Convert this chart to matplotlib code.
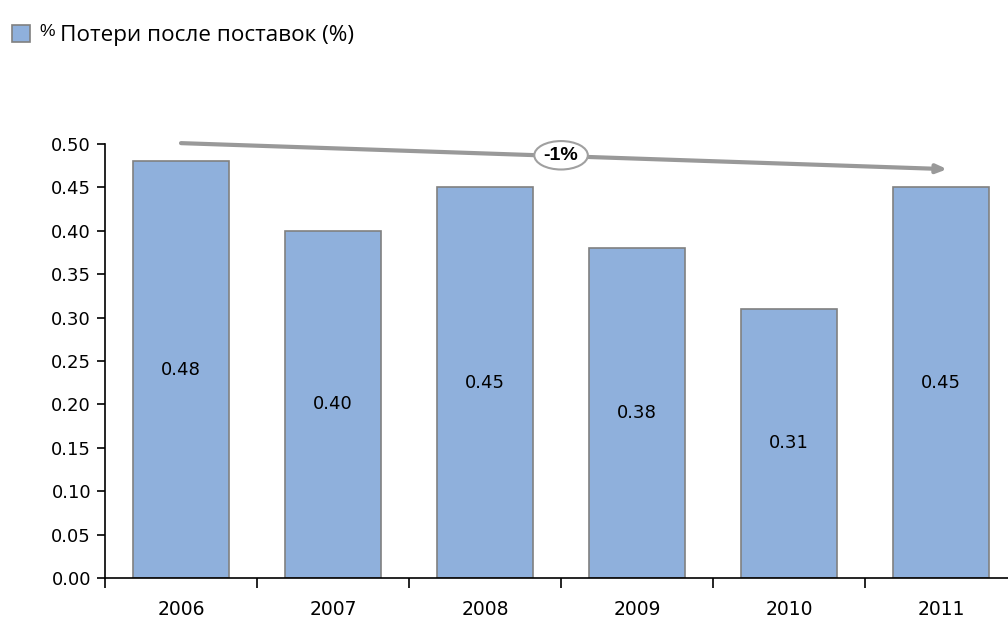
import matplotlib
matplotlib.use("Agg")
import matplotlib.pyplot as plt
import numpy as np
from matplotlib.patches import Rectangle

years = ["2006", "2007", "2008", "2009", "2010", "2011"]
losses = [0.48, 0.40, 0.45, 0.38, 0.31, 0.45]
trend_label = "-1%"
legend_label = "Потери после поставок (%)"

plt.rcParams['font.family'] = ['DejaVu Sans']

fig = plt.figure(figsize=(10.08, 6.19), dpi=100)
ax = fig.add_axes([105 / 1008, 41 / 619, 903 / 1008, 434 / 619])

x = np.arange(len(years))
bar_color = '#8FB0DC'
ax.bar(x, losses, width=0.63, color=bar_color, edgecolor='#808080', linewidth=1.2, zorder=2)

for xi, v in zip(x, losses):
    ax.text(xi, v / 2, "%.2f" % v, ha='center', va='center', fontsize=13, color='black')

ax.set_xlim(-0.5, 5.44)
ax.set_ylim(0, 0.5)
ax.set_yticks(np.arange(0, 0.51, 0.05))
ax.set_yticklabels(["%.2f" % t for t in np.arange(0, 0.51, 0.05)])

# ticks between categories, labels at centres
ax.set_xticks(np.arange(-0.5, 5.5, 1.0))
ax.set_xticklabels([])
ax.set_xticks(x, minor=True)
ax.set_xticklabels(years, minor=True)
ax.tick_params(axis='x', which='major', direction='out', length=7, width=1.2)
ax.tick_params(axis='x', which='minor', length=0, pad=16, labelsize=13.5)
ax.tick_params(axis='y', direction='out', length=6, width=1.2, labelsize=13, pad=4)

for s in ['top', 'right']:
    ax.spines[s].set_visible(False)
ax.spines['left'].set_linewidth(1.2)
ax.spines['bottom'].set_linewidth(1.2)

# trend arrow
ax.annotate("", xy=(5.04, 0.471), xytext=(0.0, 0.501),
            arrowprops=dict(arrowstyle='-|>,head_length=0.6,head_width=0.25',
                            color='#999999', lw=3, shrinkA=0, shrinkB=0),
            annotation_clip=False, zorder=3)
ax.text(2.5, 0.487, trend_label, ha='center', va='center', fontsize=14, fontweight='bold',
        family=['Liberation Sans'], zorder=4, clip_on=False,
        bbox=dict(boxstyle='ellipse,pad=0.08', fc='white', ec='#a0a0a0', lw=1.5))

# legend at top
fig.patches.append(Rectangle((12 / 1008, 1 - 42 / 619), 18 / 1008, 17 / 619,
                             transform=fig.transFigure, fc=bar_color, ec='#808080', lw=1.2))
fig.text(39 / 1008, 1 - 32 / 619, "%", fontsize=12.5, va='center', ha='left',
         family=['Liberation Sans'])
fig.text(60 / 1008, 1 - 35 / 619, legend_label, fontsize=16.2, va='center', ha='left',
         family=['Open Sans', 'DejaVu Sans'])

fig.savefig("out.png", dpi=100)
